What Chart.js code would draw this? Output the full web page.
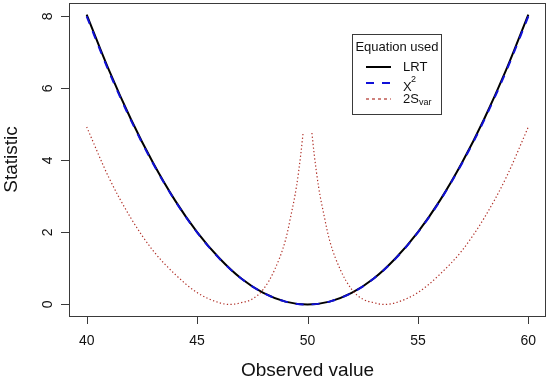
<!DOCTYPE html>
<html>
<head>
<meta charset="utf-8">
<script src="https://cdn.jsdelivr.net/npm/chart.js@4/dist/chart.umd.min.js"></script>
<style>
  html, body { margin: 0; padding: 0; background: #fff; }
  #wrap { width: 550px; height: 381px; }
</style>
</head>
<body>
<div id="wrap"><canvas id="statChart" width="550" height="381"></canvas></div>
<script>
// tick labels
const xTicks = [40, 45, 50, 55, 60];
const yTicks = [0, 2, 4, 6, 8];

// LRT and X^2 curves
const parabolaX = [40, 41, 42, 43, 44, 45, 46, 47, 48, 49, 50, 51, 52, 53, 54, 55, 56, 57, 58, 59, 60];
const lrtValues = [8.05, 6.52, 5.15, 3.94, 2.89, 2.01, 1.29, 0.72, 0.32, 0.08, 0, 0.08, 0.32, 0.72, 1.29, 2.01, 2.89, 3.94, 5.15, 6.52, 8.05];
const chiValues = [8.0, 6.48, 5.12, 3.92, 2.88, 2.0, 1.28, 0.72, 0.32, 0.08, 0, 0.08, 0.32, 0.72, 1.28, 2.0, 2.88, 3.92, 5.12, 6.48, 8.0];

// 2S_var curve, broken at 50
const svarX = [40, 41, 42, 43, 44, 45, 46, 46.5, 47, 47.5, 48, 48.5, 49, 49.25, 49.5, 49.7, 49.8, 50,
  50.2, 50.3, 50.5, 50.75, 51, 51.5, 52, 52.5, 53, 53.5, 54, 55, 56, 57, 58, 59, 60];
const svarValues = [4.93, 3.53, 2.4, 1.5, 0.84, 0.33, 0.05, 0, 0.05, 0.15, 0.42, 0.95, 1.78, 2.47, 3.27, 4.19, 4.76, null,
  4.76, 4.19, 3.27, 2.47, 1.78, 0.95, 0.42, 0.15, 0.05, 0, 0.05, 0.33, 0.84, 1.5, 2.4, 3.53, 4.93];

const toPoints = (xs, ys) => xs.map((v, i) => ({ x: v, y: ys[i] }));

const FONT = '"Liberation Sans", Arial, Helvetica, sans-serif';

const rAxes = {
  id: 'rAxes',
  afterDraw(chart) {
    const { ctx, chartArea: a, scales: { x, y } } = chart;
    ctx.save();
    ctx.strokeStyle = '#3a3a3a';
    ctx.lineWidth = 1;
    ctx.strokeRect(a.left + 0.5, a.top + 0.5, a.right - a.left - 1, a.bottom - a.top);

    // tick marks
    ctx.beginPath();
    x.ticks.forEach(t => {
      const px = Math.round(x.getPixelForValue(t.value)) + 0.5;
      ctx.moveTo(px, a.bottom);
      ctx.lineTo(px, a.bottom + 8);
    });
    y.ticks.forEach(t => {
      const py = Math.round(y.getPixelForValue(t.value)) + 0.5;
      ctx.moveTo(a.left, py);
      ctx.lineTo(a.left - 8, py);
    });
    ctx.stroke();

    // tick labels
    ctx.fillStyle = '#111';
    ctx.font = '14px ' + FONT;
    ctx.textAlign = 'center';
    ctx.textBaseline = 'middle';
    x.ticks.forEach(t => ctx.fillText(String(t.value), x.getPixelForValue(t.value), 341));
    y.ticks.forEach(t => {
      ctx.save();
      ctx.translate(48, y.getPixelForValue(t.value));
      ctx.rotate(-Math.PI / 2);
      ctx.fillText(String(t.value), 0, 0);
      ctx.restore();
    });

    // axis titles
    ctx.font = '19px ' + FONT;
    ctx.fillText('Observed value', (a.left + a.right) / 2, 371);
    ctx.save();
    ctx.translate(12, (a.top + a.bottom) / 2);
    ctx.rotate(-Math.PI / 2);
    ctx.fillText('Statistic', 0, 0);
    ctx.restore();

    // legend
    ctx.strokeStyle = '#3a3a3a';
    ctx.lineWidth = 1;
    ctx.strokeRect(352.5, 34.5, 89, 80);
    ctx.font = '13px ' + FONT;
    ctx.fillText('Equation used', 397, 47);

    const ds = chart.data.datasets;
    const rows = [67, 83, 99];
    ds.forEach((d, i) => {
      ctx.save();
      ctx.strokeStyle = d.borderColor;
      ctx.lineWidth = d.borderWidth;
      ctx.setLineDash(i === 2 ? [3, 3] : (d.borderDash || []));
      ctx.beginPath();
      ctx.moveTo(366, rows[i]);
      ctx.lineTo(391, rows[i]);
      ctx.stroke();
      ctx.restore();
    });
    ctx.textAlign = 'left';
    ctx.font = '13px ' + FONT;
    ctx.fillText('LRT', 403, 67);
    ctx.fillText('X', 403, 87);
    ctx.fillText('2S', 403, 99);
    ctx.font = '9px ' + FONT;
    ctx.fillText('2', 411, 80);
    ctx.fillText('var', 419, 103);
    ctx.restore();
  }
};

new Chart(document.getElementById('statChart'), {
  type: 'line',
  data: {
    datasets: [
      {
        label: 'LRT',
        data: toPoints(parabolaX, lrtValues),
        borderColor: '#000000',
        borderWidth: 2,
        pointRadius: 0,
        cubicInterpolationMode: 'monotone',
        order: 3
      },
      {
        label: 'X2',
        data: toPoints(parabolaX, chiValues),
        borderColor: '#1010d8',
        borderWidth: 2,
        borderDash: [8, 8],
        pointRadius: 0,
        cubicInterpolationMode: 'monotone',
        order: 2
      },
      {
        label: '2Svar',
        data: toPoints(svarX, svarValues),
        borderColor: '#b03028',
        borderWidth: 1.2,
        borderDash: [1.3, 2.3],
        pointRadius: 0,
        spanGaps: false,
        cubicInterpolationMode: 'monotone',
        order: 1
      }
    ]
  },
  options: {
    responsive: false,
    animation: false,
    devicePixelRatio: 1,
    layout: { padding: { top: 3, right: 4, left: 0, bottom: 0 } },
    plugins: { legend: { display: false }, tooltip: { enabled: false } },
    scales: {
      x: {
        type: 'linear',
        min: 39.2,
        max: 60.8,
        grid: { display: false },
        border: { display: false },
        ticks: { display: false },
        afterBuildTicks: s => { s.ticks = xTicks.map(v => ({ value: v })); },
        afterFit: s => { s.height = 65; }
      },
      y: {
        type: 'linear',
        min: -0.32,
        max: 8.37,
        grid: { display: false },
        border: { display: false },
        ticks: { display: false },
        afterBuildTicks: s => { s.ticks = yTicks.map(v => ({ value: v })); },
        afterFit: s => { s.width = 69; }
      }
    }
  },
  plugins: [rAxes]
});
</script>
</body>
</html>
